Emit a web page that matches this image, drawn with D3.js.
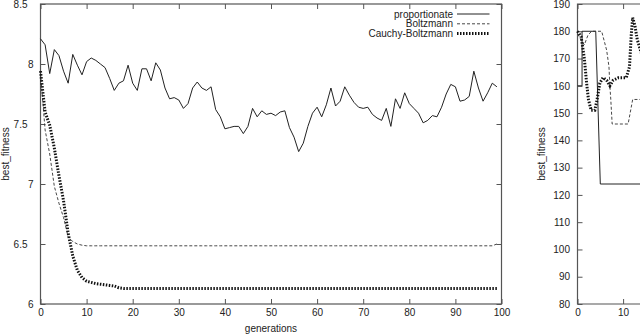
<!DOCTYPE html>
<html lang="en">
<head>
<meta charset="utf-8">
<title>best_fitness vs generations</title>
<script src="https://cdn.jsdelivr.net/npm/d3@7"></script>
<style>
  body { margin: 0; padding: 0; background: #fff; overflow: hidden; }
  text { font-family: "Liberation Sans", Arial, sans-serif; font-size: 10px; fill: #222; }
  .frame { fill: none; stroke: #555; stroke-width: 1.2px; }
  .tick line { stroke: #555; stroke-width: 1px; }
  .prop { fill: none; stroke: #222; stroke-width: 1px; }
  .boltz { fill: none; stroke: #333; stroke-width: 0.9px; stroke-dasharray: 3,2; }
  .cauchy { fill: none; stroke: #111; stroke-width: 3px; stroke-dasharray: 1.5,1.5; }
</style>
</head>
<body>
<script>
// left chart: one value per generation 0..99
var generations = d3.range(0, 100);
var proportionate = [
  8.21, 8.16, 7.92, 8.12, 8.07, 7.94, 7.84, 8.08, 7.99, 7.91,
  8.02, 8.05, 8.03, 8.00, 7.97, 7.88, 7.78, 7.84, 7.86, 7.99,
  7.84, 7.78, 7.96, 7.96, 7.86, 8.01, 7.95, 7.80, 7.71, 7.72,
  7.70, 7.63, 7.67, 7.80, 7.85, 7.80, 7.78, 7.81, 7.62, 7.56,
  7.46, 7.47, 7.48, 7.48, 7.42, 7.48, 7.63, 7.56, 7.61, 7.58,
  7.59, 7.57, 7.60, 7.61, 7.47, 7.39, 7.27, 7.34, 7.48, 7.59,
  7.64, 7.56, 7.66, 7.80, 7.65, 7.69, 7.81, 7.74, 7.68, 7.64,
  7.63, 7.64, 7.58, 7.55, 7.53, 7.63, 7.48, 7.71, 7.63, 7.76,
  7.67, 7.63, 7.59, 7.51, 7.53, 7.57, 7.56, 7.64, 7.75, 7.83,
  7.81, 7.69, 7.70, 7.73, 7.94, 7.80, 7.69, 7.76, 7.84, 7.81
];
var boltzmannHead = [7.92, 7.45, 7.25, 6.98, 6.84, 6.72, 6.56, 6.52, 6.50, 6.49];
var boltzmannTail = 6.485;
var cauchyHead = [7.94, 7.60, 7.49, 7.30, 7.07, 6.86, 6.59, 6.40, 6.28, 6.22,
                  6.19, 6.18, 6.17, 6.165, 6.16, 6.155, 6.15, 6.135];
var cauchyTail = 6.13;

var boltzmann = generations.map(function(g){ return g < boltzmannHead.length ? boltzmannHead[g] : boltzmannTail; });
boltzmann[99] = 6.5;
var cauchy = generations.map(function(g){ return g < cauchyHead.length ? cauchyHead[g] : cauchyTail; });

var xTicks = [0,10,20,30,40,50,60,70,80,90,100];
var xTicksR = [0, 10];   // the rest of the right chart is outside the picture
var yTicksL = [6, 6.5, 7, 7.5, 8, 8.5];
var yTicksR = [80, 90, 100, 110, 120, 130, 140, 150, 160, 170, 180, 190];

// right chart (partly cut off): [generation, best_fitness]
var propR = [[0,160],[1,160],[1,180],[4,180],[5,124],[14,124]];
var boltzR = [[0,179],[1.5,175],[2.3,178.6],[3.1,180],[5.3,180],[6.4,173],[6.9,167],
              [7.1,160],[7.3,155],[7.6,146],[11.1,146],[12.1,155],[14,155]];
var cauchyR = [[0,180],[0.8,178],[1.5,170],[2,161],[2.4,155],[3,151],[3.8,151],[4.3,155],
               [4.9,161],[5.6,163],[6.4,162],[7.1,160],[7.8,162],[9,163],[10.7,163],
               [11.4,167],[11.8,179],[12.1,185],[12.6,182],[13.1,177],[14,172]];

var legendNames = ["proportionate", "Boltzmann", "Cauchy-Boltzmann"];
var legendClass = ["prop", "boltz", "cauchy"];

var svg = d3.select('body').append('svg')
    .attr('width', 640)
    .attr('height', 335);

var top0 = 4, bot0 = 304;
var fmt = function(d){ return String(d); };

// ---------- left chart
var xL = d3.scaleLinear().domain([0, 100]).range([40.5, 501.5]);
var yL = d3.scaleLinear().domain([6, 8.5]).range([bot0, top0]);

svg.append('g').attr('transform', 'translate(0,' + bot0 + ')')
    .call(d3.axisBottom(xL).tickValues(xTicks).tickSize(-5).tickPadding(5));
svg.append('g').attr('transform', 'translate(0,' + top0 + ')')
    .call(d3.axisTop(xL).tickValues(xTicks).tickSize(-5).tickFormat(''));
var gy = svg.append('g').attr('transform', 'translate(40.5,0)')
    .call(d3.axisLeft(yL).tickValues(yTicksL).tickSize(-5).tickPadding(7).tickFormat(fmt));
svg.append('g').attr('transform', 'translate(501.5,0)')
    .call(d3.axisRight(yL).tickValues(yTicksL).tickSize(-5).tickFormat(''));
svg.selectAll('.domain').remove();
// decimal labels sit a bit further left in the original
gy.selectAll('.tick text').attr('dx', function(d){ return d % 1 ? -6 : 0; });

svg.append('rect').attr('class', 'frame')
    .attr('x', xL(0)).attr('y', top0)
    .attr('width', xL(100) - xL(0)).attr('height', bot0 - top0);

var lineL = d3.line().x(function(d, i){ return xL(generations[i]); }).y(function(d){ return yL(d); });
svg.append('path').attr('class', 'prop').attr('d', lineL(proportionate));
svg.append('path').attr('class', 'boltz').attr('d', lineL(boltzmann));
svg.append('path').attr('class', 'cauchy').attr('d', lineL(cauchy));

svg.append('text').attr('x', (xL(0) + xL(100)) / 2).attr('y', 332)
    .attr('text-anchor', 'middle').text('generations');
svg.append('text').attr('transform', 'translate(9,' + (top0 + bot0) / 2 + ') rotate(-90)')
    .attr('text-anchor', 'middle').text('best_fitness');

// legend
var leg = svg.append('g');
legendNames.forEach(function(name, i){
  var y = 14 + i * 9.8;
  leg.append('text').attr('x', 453).attr('y', y + 3.5).attr('text-anchor', 'end').text(name);
  leg.append('line').attr('class', legendClass[i])
      .attr('x1', 457).attr('x2', 489.5).attr('y1', y).attr('y2', y);
});

// ---------- right chart
var xR = d3.scaleLinear().domain([0, 100]).range([577.5, 577.5 + 456]);
var yR = d3.scaleLinear().domain([80, 190]).range([bot0, top0]);

svg.append('g').attr('transform', 'translate(0,' + bot0 + ')')
    .call(d3.axisBottom(xR).tickValues(xTicksR).tickSize(-5).tickPadding(5));
svg.append('g').attr('transform', 'translate(0,' + top0 + ')')
    .call(d3.axisTop(xR).tickValues(xTicksR).tickSize(-5).tickFormat(''));
svg.append('g').attr('transform', 'translate(577.5,0)')
    .call(d3.axisLeft(yR).tickValues(yTicksR).tickSize(-5).tickPadding(7.5).tickFormat(fmt));
svg.selectAll('.domain').remove();

svg.append('path').attr('class', 'frame')
    .attr('d', d3.line()([[660, top0], [xR(0), top0], [xR(0), bot0], [660, bot0]]));

var lineR = d3.line().x(function(d){ return xR(d[0]); }).y(function(d){ return yR(d[1]); });
svg.append('path').attr('class', 'prop').attr('d', lineR(propR));
svg.append('path').attr('class', 'boltz').attr('d', lineR(boltzR));
svg.append('path').attr('class', 'cauchy').attr('d', lineR(cauchyR));

svg.append('text').attr('transform', 'translate(545,' + (top0 + bot0) / 2 + ') rotate(-90)')
    .attr('text-anchor', 'middle').text('best_fitness');
</script>
</body>
</html>
